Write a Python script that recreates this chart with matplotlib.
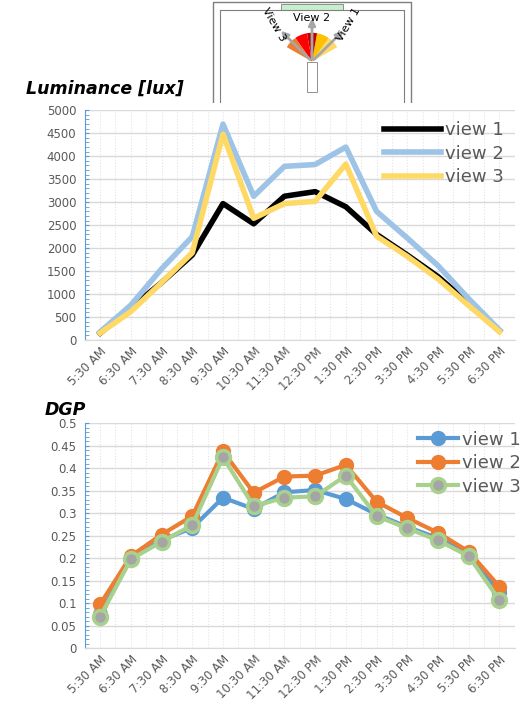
import matplotlib
matplotlib.use("Agg")
import matplotlib.pyplot as plt
from matplotlib.patches import Wedge, Rectangle
from matplotlib.ticker import FormatStrFormatter
import numpy as np
import math

times = ["5:30 AM","6:30 AM","7:30 AM","8:30 AM","9:30 AM","10:30 AM","11:30 AM",
         "12:30 PM","1:30 PM","2:30 PM","3:30 PM","4:30 PM","5:30 PM","6:30 PM"]
lum_v1 = [150,700,1250,1850,2970,2530,3130,3230,2900,2300,1850,1380,800,200]
lum_v2 = [180,760,1550,2250,4700,3130,3780,3820,4200,2800,2220,1620,900,220]
lum_v3 = [150,620,1250,1900,4480,2650,2970,3020,3830,2260,1820,1330,750,180]
dgp_v1 = [0.077,0.2,0.24,0.268,0.335,0.31,0.347,0.352,0.332,0.298,0.27,0.245,0.21,0.125]
dgp_v2 = [0.098,0.205,0.253,0.294,0.438,0.346,0.382,0.384,0.408,0.326,0.29,0.257,0.215,0.137]
dgp_v3 = [0.07,0.198,0.237,0.274,0.425,0.316,0.335,0.338,0.384,0.294,0.267,0.24,0.205,0.107]

fig = plt.figure(figsize=(5.2,7.07), dpi=100)
x = list(range(len(times)))
tc = "#595959"

def style(ax, ylim, step, minor):
    ax.set_xlim(-0.5, len(times)-0.5)
    ax.set_ylim(0, ylim)
    ax.set_xticks(x)
    ax.set_xticklabels(times, rotation=45, ha="right", rotation_mode="anchor", fontsize=8.5, color=tc)
    ax.set_xticks([i+0.5 for i in x[:-1]], minor=True)
    ax.set_yticks(np.arange(0, ylim+step/2, step))
    ax.set_yticks(np.arange(0, ylim, minor), minor=True)
    ax.yaxis.set_major_formatter(FormatStrFormatter("%g"))
    ax.tick_params(axis="y", which="both", colors="#5B9BD5", labelcolor=tc, labelsize=8.5, length=3, direction="in", pad=6)
    ax.tick_params(axis="x", which="both", length=0)
    ax.grid(axis="y", which="major", color="#d9d9d9", lw=1)
    ax.grid(axis="x", which="both", color="#e3e3e3", lw=0.8, ls=":")
    for s in ["top","right"]:
        ax.spines[s].set_visible(False)
    ax.spines["left"].set_color("#5B9BD5")
    ax.spines["bottom"].set_color("#d9d9d9")
    ax.set_axisbelow(True)

ax1 = fig.add_axes([0.163, 0.519, 0.827, 0.325])
ax1.plot(x, lum_v1, color="black", lw=4, label="view 1")
ax1.plot(x, lum_v2, color="#9DC3E6", lw=4, label="view 2")
ax1.plot(x, lum_v3, color="#FFD966", lw=4, label="view 3")
style(ax1, 5000, 500, 100)
ax1.legend(loc="upper right", frameon=False, fontsize=13, labelcolor=tc, handlelength=3.2,
           borderaxespad=0.2, handletextpad=0.2, labelspacing=0.3)
fig.text(0.05, 0.868, "Luminance [lux]", fontsize=12.5, fontweight="bold", style="italic")

ax2 = fig.add_axes([0.163, 0.083, 0.827, 0.318])
ax2.plot(x, dgp_v1, color="#5B9BD5", lw=3, marker="o", ms=10, label="view 1")
ax2.plot(x, dgp_v2, color="#ED7D31", lw=3, marker="o", ms=10, label="view 2")
ax2.plot(x, dgp_v3, color="#A9D18E", lw=3, marker="o", ms=10, mfc="#A5A5A5", mec="#A9D18E", mew=2.5, label="view 3")
style(ax2, 0.5, 0.05, 0.01)
ax2.legend(loc="upper right", frameon=False, fontsize=13, labelcolor=tc, handlelength=2.2,
           borderaxespad=0.0, handletextpad=0.2, labelspacing=0.3, bbox_to_anchor=(1.03, 1.0))
fig.text(0.085, 0.413, "DGP", fontsize=12.5, fontweight="bold", style="italic")

# room sketch
axr = fig.add_axes([0.4, 0.855, 0.4, 0.145])
axr.set_xlim(0, 200); axr.set_ylim(0, 100); axr.axis("off")
axr.plot([5,5,195,195],[0,98,98,0], color="#7f7f7f", lw=1)
axr.plot([12,12,188,188],[0,90,90,0], color="#7f7f7f", lw=0.8)
axr.add_patch(Rectangle((70,90),60,6, fc="#c6efce", ec="#7f7f7f", lw=0.6))
for a1, a2, c in [(30,55,"#FFD966"),(55,80,"#FFC000"),(80,100,"#C00000"),(100,125,"#FF0000"),(125,150,"#ED7D31")]:
    axr.add_patch(Wedge((100,40),28,a1,a2, fc=c, ec="none"))
for ang in [45,90,135]:
    axr.annotate("", xy=(100+45*math.cos(math.radians(ang)), 40+45*math.sin(math.radians(ang))),
                 xytext=(100,40), arrowprops=dict(arrowstyle="-|>", color="#a6a6a6", lw=2))
axr.text(100,80,"View 2", fontsize=8, ha="center")
axr.text(135,60,"View 1", fontsize=8, rotation=60, ha="center")
axr.text(63,60,"View 3", fontsize=8, rotation=-60, ha="center")
axr.add_patch(Rectangle((95,10),10,30, fc="white", ec="#7f7f7f", lw=0.6))

fig.savefig("out.png", dpi=100)
